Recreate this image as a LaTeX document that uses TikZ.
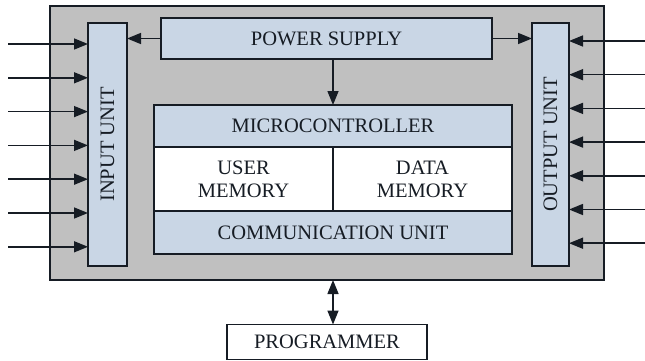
\documentclass[tikz,border=0pt]{standalone}
\usepackage{fontspec}
\setmainfont{Liberation Serif}
\usepackage{tikz}
\usetikzlibrary{arrows.meta,positioning}

\definecolor{boardgray}{RGB}{192,192,192}
\definecolor{unitblue}{RGB}{201,214,229}
\definecolor{inkdark}{RGB}{22,28,36}

\begin{document}
\begin{tikzpicture}[x=1pt,y=-1pt,>={Triangle[length=14pt,width=11pt]},
  every node/.style={font=\fontsize{20.5}{23}\selectfont,text=inkdark},
  block/.style={rectangle,draw=inkdark,line width=1.1pt,inner sep=0pt,outer sep=0pt,align=center},
  unit/.style={block,fill=unitblue},
  memory/.style={block,fill=white},
  link/.style={->,line width=1.5pt,draw=inkdark}]

  \useasboundingbox (0,0) rectangle (645,361);

  \node[block,fill=boardgray,minimum width=554pt,minimum height=274pt] (board) at (327,143) {};
  \node[unit,minimum width=39pt,minimum height=243pt] (input) at (107.5,144.5) {};
  \node[rotate=90] at (input.center) {INPUT UNIT};
  \node[unit,minimum width=37pt,minimum height=243pt] (output) at (550.5,144.5) {};
  \node[rotate=90] at (output.center) {OUTPUT UNIT};
  \node[unit,minimum width=331pt,minimum height=41pt] (power) at (326.5,38.5) {POWER SUPPLY};

  \node[unit,minimum width=358pt,minimum height=42pt] (micro) at (333,126) {MICROCONTROLLER};
  \node[memory,minimum width=179pt,minimum height=64pt,anchor=north west] (usermem) at (micro.south west) {USER\\MEMORY};
  \node[memory,minimum width=179pt,minimum height=64pt,anchor=north west] (datamem) at (usermem.north east) {DATA\\MEMORY};
  \node[unit,minimum width=358pt,minimum height=43pt,anchor=north west] (comm) at (usermem.south west) {COMMUNICATION UNIT};

  \node[block,minimum width=200pt,minimum height=35pt] (prog) at (327,342) {PROGRAMMER};

  % power lines
  \draw[link] (power.west) -- (power.west -| input.east);
  \draw[link] (power.east) -- (power.east -| output.west);
  \draw[link] (power.south -| micro.north) -- (micro.north);
  \draw[link,<->] (board.south -| micro.north) -- (prog.north -| micro.north);

  % input and output lines
  \foreach \i in {0,...,6} {
    \coordinate (in\i) at (8,44+33.8*\i);
    \draw[link] (in\i) -- (in\i -| input.west);
    \coordinate (out\i) at (645,41+33.7*\i);
    \draw[link] (out\i) -- (out\i -| output.east);
  }

\end{tikzpicture}
\end{document}
